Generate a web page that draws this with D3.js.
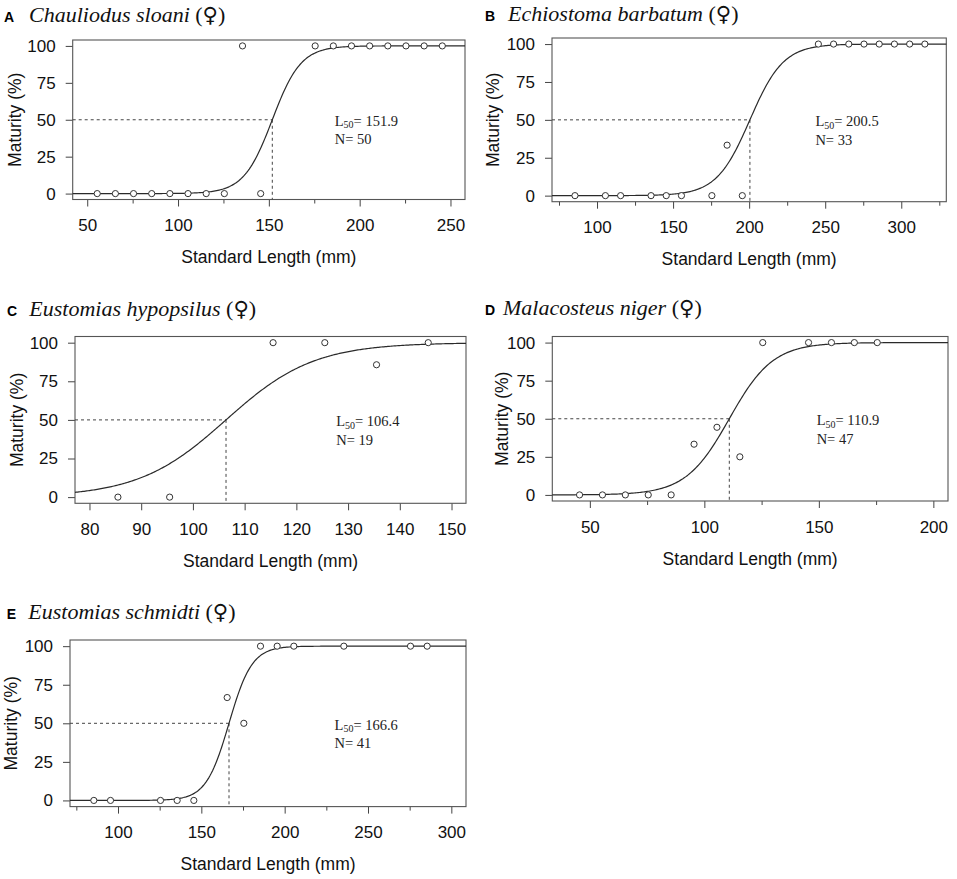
<!DOCTYPE html>
<html>
<head>
<meta charset="utf-8">
<script src="https://cdn.jsdelivr.net/npm/d3@7"></script>
<style>
  body { margin: 0; background: #fff; }
  svg { display: block; }
  .tick text { font-family: "Liberation Sans", Arial, sans-serif; fill: #111; }
</style>
</head>
<body>
<div id="chart"></div>
<script>
// ---- data ----
var panelLetters = ["A", "B", "C", "D", "E"];
var speciesNames = ["Chauliodus sloani", "Echiostoma barbatum", "Eustomias hypopsilus", "Malacosteus niger", "Eustomias schmidti"];
var l50Values = [151.9, 200.5, 106.4, 110.9, 166.6];
var sampleSizes = [50, 33, 19, 47, 41];
// logistic slope estimated from the drawn curves
var slopeValues = [0.127, 0.091, 0.118, 0.105, 0.145];
var xLimits = [[50, 250], [80, 320], [80, 150], [40, 200], [80, 300]];

var lengthsA = [55.5, 65.5, 75.5, 85.5, 95.5, 105.5, 115.5, 125.5, 135.5, 145.5, 175.5, 185.5, 195.5, 205.5, 215.5, 225.5, 235.5, 245.5];
var maturityA = [0, 0, 0, 0, 0, 0, 0, 0, 100, 0, 100, 100, 100, 100, 100, 100, 100, 100];

var lengthsB = [85.5, 105.5, 115.5, 135.5, 145.5, 155.5, 175.5, 185.5, 195.5, 245.5, 255.5, 265.5, 275.5, 285.5, 295.5, 305.5, 315.5];
var maturityB = [0, 0, 0, 0, 0, 0, 0, 33.3, 0, 100, 100, 100, 100, 100, 100, 100, 100];

var lengthsC = [85.5, 95.5, 115.5, 125.5, 135.5, 145.5];
var maturityC = [0, 0, 100, 100, 85.7, 100];

var lengthsD = [45.5, 55.5, 65.5, 75.5, 85.5, 95.5, 105.5, 115.5, 125.5, 145.5, 155.5, 165.5, 175.5];
var maturityD = [0, 0, 0, 0, 0, 33.3, 44.4, 25, 100, 100, 100, 100, 100];

var lengthsE = [85.5, 95.5, 125.5, 135.5, 145.5, 165.5, 175.5, 185.5, 195.5, 205.5, 235.5, 275.5, 285.5];
var maturityE = [0, 0, 0, 0, 0, 66.7, 50, 100, 100, 100, 100, 100, 100];

var xMajorTicks = [
  [50, 100, 150, 200, 250],
  [100, 150, 200, 250, 300],
  [80, 90, 100, 110, 120, 130, 140, 150],
  [50, 100, 150, 200],
  [100, 150, 200, 250, 300]
];
var xMinorTicks = [
  [75, 125, 175, 225],
  [75, 125, 175, 225, 275, 325],
  [],
  [75, 125, 175],
  [75, 125, 175, 225, 275]
];
var yTicks = [0, 25, 50, 75, 100];

var allLengths = [lengthsA, lengthsB, lengthsC, lengthsD, lengthsE];
var allMaturity = [maturityA, maturityB, maturityC, maturityD, maturityE];

// ---- layout ----
var svgWidth = 957, svgHeight = 879;
var boxes = [
  {left: 72.7, right: 465, top: 40, bottom: 199.5, titleY: 21.7, letterX: 4, nameX: 29, yLabelX: 15},
  {left: 552, right: 946.3, top: 38, bottom: 201.7, titleY: 20.7, letterX: 485, nameX: 508, yLabelX: 493.5},
  {left: 75, right: 466, top: 336.5, bottom: 503.3, titleY: 315.7, letterX: 7, nameX: 29.3, yLabelX: 17.5},
  {left: 552.3, right: 948, top: 336.5, bottom: 501, titleY: 315, letterX: 485, nameX: 503, yLabelX: 502},
  {left: 70, right: 466, top: 640, bottom: 806.6, titleY: 619.3, letterX: 6.7, nameX: 28.3, yLabelX: 11}
];

var sans = "'Liberation Sans', Arial, Helvetica, sans-serif";
var serif = "'Liberation Serif', 'Times New Roman', Times, serif";

var svg = d3.select("#chart")
  .append("svg")
  .attr("width", svgWidth)
  .attr("height", svgHeight);

boxes.forEach(function(b, i) {
  var lim = xLimits[i];
  var padX = (lim[1] - lim[0]) * 0.04;  // R style 4% axis extension
  var x = d3.scaleLinear().domain([lim[0] - padX, lim[1] + padX]).range([b.left, b.right]);
  var y = d3.scaleLinear().domain([-4, 104]).range([b.bottom, b.top]);

  var g = svg.append("g");

  // title
  g.append("text")
    .attr("x", b.letterX)
    .attr("y", b.titleY)
    .attr("font-family", sans)
    .attr("font-weight", "bold")
    .attr("font-size", "14px")
    .text(panelLetters[i]);
  var title = g.append("text")
    .attr("x", b.nameX)
    .attr("y", b.titleY)
    .attr("font-family", serif)
    .attr("font-size", "22px")
    .attr("fill", "#111");
  title.append("tspan").attr("font-style", "italic").text(speciesNames[i] + " ");
  title.append("tspan").text("(");
  title.append("tspan").attr("font-family", "'DejaVu Sans'").attr("font-size", "21px").text("\u2640");
  title.append("tspan").text(")");

  // axes
  var bottomAxis = d3.axisBottom(x)
    .tickValues(xMajorTicks[i])
    .tickSize(7)
    .tickPadding(12.5)
    .tickFormat(d3.format("d"));
  var gx = g.append("g")
    .attr("transform", `translate(0, ${b.bottom})`)
    .call(bottomAxis);
  gx.select(".domain").remove();
  gx.selectAll("text").attr("font-size", "17px");

  if (xMinorTicks[i].length) {
    var minorAxis = d3.axisBottom(x)
      .tickValues(xMinorTicks[i])
      .tickSize(4)
      .tickFormat("");
    var gm = g.append("g")
      .attr("transform", `translate(0, ${b.bottom})`)
      .call(minorAxis);
    gm.select(".domain").remove();
  }

  var leftAxis = d3.axisLeft(y)
    .tickValues(yTicks)
    .tickSize(7)
    .tickPadding(10);
  var gy = g.append("g")
    .attr("transform", `translate(${b.left}, 0)`)
    .call(leftAxis);
  gy.select(".domain").remove();
  gy.selectAll("text").attr("font-size", "17px");

  g.selectAll(".tick line").attr("stroke", "#444");

  // box
  g.append("rect")
    .attr("x", b.left)
    .attr("y", b.top)
    .attr("width", b.right - b.left)
    .attr("height", b.bottom - b.top)
    .attr("fill", "none")
    .attr("stroke", "#555")
    .attr("stroke-width", 1.1);

  // axis labels
  g.append("text")
    .attr("x", (b.left + b.right) / 2)
    .attr("y", b.bottom + 63.5)
    .attr("text-anchor", "middle")
    .attr("font-family", sans)
    .attr("font-size", "17.5px")
    .attr("fill", "#111")
    .text("Standard Length (mm)");

  g.append("text")
    .attr("transform", `translate(${b.yLabelX}, ${(b.top + b.bottom) / 2}) rotate(-90)`)
    .attr("dy", "0.32em")
    .attr("text-anchor", "middle")
    .attr("font-family", sans)
    .attr("font-size", "17.5px")
    .attr("fill", "#111")
    .text("Maturity (%)");

  // dashed L50 guides
  g.append("line")
    .attr("x1", b.left).attr("x2", x(l50Values[i]))
    .attr("y1", y(50)).attr("y2", y(50))
    .attr("stroke", "#444")
    .attr("stroke-dasharray", "3,3");
  g.append("line")
    .attr("x1", x(l50Values[i])).attr("x2", x(l50Values[i]))
    .attr("y1", y(50)).attr("y2", b.bottom)
    .attr("stroke", "#444")
    .attr("stroke-dasharray", "3,3");

  // fitted logistic curve
  var d0 = x.domain()[0], d1 = x.domain()[1];
  var curveX = d3.range(d0, d1, (d1 - d0) / 300).concat([d1]);
  var logistic = function(v) {
    return 100 / (1 + Math.exp(-slopeValues[i] * (v - l50Values[i])));
  };
  var line = d3.line()
    .x(function(v) { return x(v); })
    .y(function(v) { return y(logistic(v)); });
  g.append("path")
    .datum(curveX)
    .attr("d", line)
    .attr("fill", "none")
    .attr("stroke", "#2a2a2a")
    .attr("stroke-width", 1.2);

  // observed points
  g.selectAll("circle.obs")
    .data(allLengths[i])
    .enter()
    .append("circle")
    .attr("class", "obs")
    .attr("cx", function(d) { return x(d); })
    .attr("cy", function(d, j) { return y(allMaturity[i][j]); })
    .attr("r", 3.1)
    .attr("fill", "#fff")
    .attr("stroke", "#333")
    .attr("stroke-width", 1);

  // L50 and N annotation
  var tx = b.left + 0.668 * (b.right - b.left);
  var ty = y(45.8);
  var t1 = g.append("text")
    .attr("x", tx)
    .attr("y", ty)
    .attr("font-family", serif)
    .attr("font-size", "14.5px")
    .attr("fill", "#222");
  t1.append("tspan").text("L");
  t1.append("tspan").attr("font-size", "10px").attr("dy", 2.5).text("50");
  t1.append("tspan").attr("dy", -2.5).text("= " + l50Values[i].toFixed(1));

  g.append("text")
    .attr("x", tx)
    .attr("y", ty + 18.5)
    .attr("font-family", serif)
    .attr("font-size", "14.5px")
    .attr("fill", "#222")
    .text("N= " + sampleSizes[i]);
});
</script>
</body>
</html>
